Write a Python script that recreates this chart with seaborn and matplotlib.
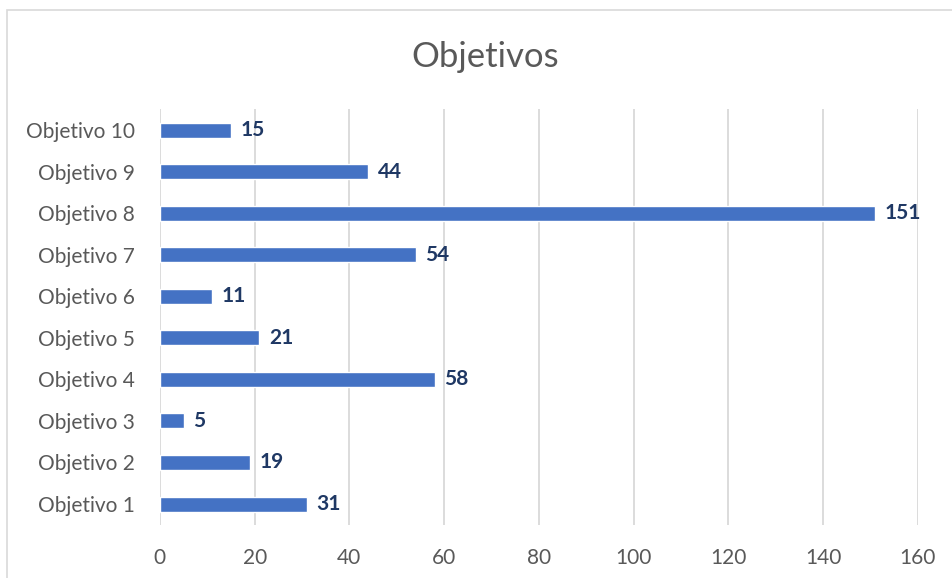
import matplotlib
matplotlib.use('Agg')
import matplotlib.pyplot as plt
import seaborn as sns
import pandas as pd
from matplotlib.patches import Rectangle

# Chart data
categories = ['Objetivo 1', 'Objetivo 2', 'Objetivo 3', 'Objetivo 4', 'Objetivo 5',
              'Objetivo 6', 'Objetivo 7', 'Objetivo 8', 'Objetivo 9', 'Objetivo 10']
values = [31, 19, 5, 58, 21, 11, 54, 151, 44, 15]
x_ticks = [0, 20, 40, 60, 80, 100, 120, 140, 160]

BAR_COLOR = '#4472C4'
LABEL_COLOR = '#1F3864'
TEXT_COLOR = '#595959'
GRID_COLOR = '#D9D9D9'

sns.set_theme(style='white')
plt.rcParams['font.family'] = ['Lato', 'DejaVu Sans']

df = pd.DataFrame({'categoria': categories, 'valor': values})
order = categories[::-1]  # Objetivo 10 on top

fig = plt.figure(figsize=(9.52, 5.78), dpi=100)
ax = fig.add_axes([0.168, 0.092, 0.796, 0.719])

sns.barplot(data=df, y='categoria', x='valor', order=order, orient='h',
            color=BAR_COLOR, saturation=1, width=0.36, ax=ax)

for container in ax.containers:
    ax.bar_label(container, padding=7, fontsize=15, fontweight='bold', color=LABEL_COLOR)

ax.set_xlim(0, 160)
ax.set_xticks(x_ticks)
ax.set_xlabel('')
ax.set_ylabel('')
ax.grid(axis='x', color=GRID_COLOR, linewidth=1.3)
ax.set_axisbelow(True)
for side in ['top', 'right', 'bottom', 'left']:
    ax.spines[side].set_visible(False)
ax.tick_params(axis='x', length=0, pad=17, labelsize=15, labelcolor=TEXT_COLOR)
ax.tick_params(axis='y', length=0, pad=18, labelsize=15, labelcolor=TEXT_COLOR)

fig.text(0.51, 0.902, 'Objetivos', ha='center', va='center', fontsize=25, color=TEXT_COLOR)

# outer chart border (cropped on the right/bottom)
fig.patches.append(Rectangle((7 / 952, -0.05), 1.1, 1 - 10 / 578 + 0.05,
                             transform=fig.transFigure, fill=False,
                             edgecolor='#D9D9D9', linewidth=1.2))

fig.savefig('out.png', dpi=100)
